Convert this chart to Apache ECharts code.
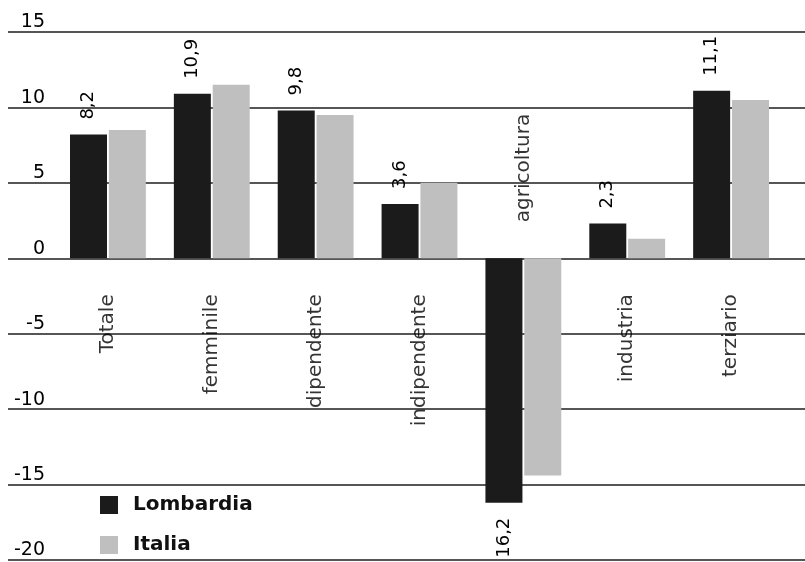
<!DOCTYPE html>
<html>
<head>
<meta charset="utf-8">
<script src="https://cdn.jsdelivr.net/npm/echarts@6/dist/echarts.min.js"></script>
<style>
html,body{margin:0;padding:0;background:#fff;}
#chart{width:805px;height:562px;}
</style>
</head>
<body>
<div id="chart"></div>
<script>
const categories = ['Totale', 'femminile', 'dipendente', 'indipendente', 'agricoltura', 'industria', 'terziario'];
const lombardia = [8.2, 10.9, 9.8, 3.6, -16.2, 2.3, 11.1];
const italia = [8.5, 11.5, 9.5, 5.0, -14.4, 1.3, 10.5];
const yMin = -20, yMax = 15, yStep = 5;

const FONT = 'DejaVu Sans';
const fmt = v => Math.abs(v).toFixed(1).replace('.', ',');

const lombData = lombardia.map(v => ({
  value: v,
  label: { position: v < 0 ? 'bottom' : 'top', align: v < 0 ? 'right' : 'left' }
}));
const catLabelData = categories.map((c, i) => ({
  value: 0,
  label: {
    position: lombardia[i] < 0 ? 'top' : 'bottom',
    align: lombardia[i] < 0 ? 'left' : 'right'
  }
}));

const chart = echarts.init(document.getElementById('chart'), null, { renderer: 'canvas' });
chart.setOption({
  animation: false,
  backgroundColor: '#fff',
  textStyle: { fontFamily: FONT },
  grid: [
    { left: 8, right: 0, top: 32, bottom: 2 },
    { left: 56, right: 22, top: 32, bottom: 2 }
  ],
  xAxis: [
    { gridIndex: 0, type: 'value', show: false, min: 0, max: 1 },
    { gridIndex: 1, type: 'category', data: categories, show: false, boundaryGap: true }
  ],
  yAxis: [
    {
      gridIndex: 0, type: 'value', min: yMin, max: yMax, interval: yStep,
      axisLine: { show: false }, axisTick: { show: false },
      splitLine: { show: true, lineStyle: { color: '#1e1e1e', width: 1.6 } },
      axisLabel: {
        inside: true, align: 'right', margin: 37, verticalAlign: 'bottom',
        fontFamily: FONT, fontSize: 19, color: '#000'
      }
    },
    { gridIndex: 1, type: 'value', min: yMin, max: yMax, interval: yStep, show: false, splitLine: { show: false } }
  ],
  legend: {
    orient: 'vertical', left: 100, top: 495, height: 66, padding: 0,
    data: ['Lombardia', 'Italia'],
    icon: 'rect', itemWidth: 18, itemHeight: 18, itemGap: 20,
    textStyle: { fontFamily: FONT, fontSize: 20, lineHeight: 20, fontWeight: 'bold', color: '#111', padding: [0, 0, 0, 10] }
  },
  series: [
    {
      name: 'Lombardia', type: 'bar', xAxisIndex: 1, yAxisIndex: 1,
      data: lombData, barWidth: 37, barGap: '5%',
      itemStyle: { color: '#1b1b1b' },
      label: {
        show: true, rotate: 90, distance: 15, verticalAlign: 'middle',
        fontFamily: FONT, fontSize: 18, color: '#000',
        formatter: p => fmt(p.value)
      }
    },
    {
      name: 'Italia', type: 'bar', xAxisIndex: 1, yAxisIndex: 1,
      data: italia, barWidth: 37, barGap: '5%',
      itemStyle: { color: '#bfbfbf' }
    },
    {
      name: 'categorie', type: 'scatter', xAxisIndex: 1, yAxisIndex: 1,
      data: catLabelData, symbolSize: 0, silent: true, z: 5,
      label: {
        show: true, rotate: 90, distance: 36, verticalAlign: 'middle',
        fontFamily: FONT, fontSize: 20, color: '#000',
        formatter: p => categories[p.dataIndex]
      }
    }
  ]
});
</script>
</body>
</html>
